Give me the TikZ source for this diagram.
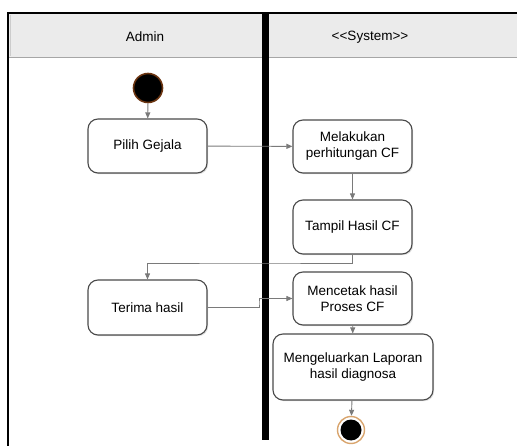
\documentclass[tikz,border=0pt]{standalone}
\usepackage{fontspec}
\setmainfont{Liberation Sans}
\usetikzlibrary{arrows.meta,shadows}
\definecolor{headgray}{HTML}{EBEBEB}
\definecolor{boxline}{HTML}{4A4A4A}
\definecolor{flowgray}{HTML}{7A7A7A}
\definecolor{ringtan}{HTML}{D9A56E}
\definecolor{glow}{HTML}{6B3410}
\begin{document}
\begin{tikzpicture}[x=1pt,y=-1pt,
  activity/.style={draw=boxline, line width=1.1pt, fill=white, rounded corners=10pt,
    align=center, inner sep=2pt, font=\fontsize{13.5}{16}\selectfont,
    drop shadow={opacity=0.25, shadow xshift=1.2pt, shadow yshift=-1.2pt}},
  flow/.style={draw=flowgray, line width=0.9pt, -{Triangle[length=6pt,width=5pt]}},
  lanehead/.style={font=\fontsize{13.5}{16}\selectfont}
]
\path[use as bounding box] (0,0) rectangle (517,446);

% swimlane frame and header band
\fill[headgray] (8,13) rectangle (517,57);
\draw[gray!70, line width=0.8pt] (8,57) -- (517,57);
\draw[gray!40, line width=0.6pt] (10,15) -- (10,56);
\draw[black, line width=1.2pt] (517,13) -- (8,13) -- (8,446);
\node[lanehead] (hadmin) at (145,37) {Admin};
\node[lanehead] (hsystem) at (370,37) {<\kern0pt<System>\kern0pt>};

% lane divider
\draw[black, line width=7pt] (265,13) -- (265,440);

% start node
\node[circle, fill=black, draw=glow, line width=1.6pt, minimum size=29pt, inner sep=0pt] (start) at (148,88) {};

% activities
\node[activity, minimum width=119pt, minimum height=54pt] (pilih) at (147.5,146) {Pilih Gejala};
\node[activity, minimum width=119pt, minimum height=53pt] (hitung) at (352.5,146.5) {Melakukan\\perhitungan CF};
\node[activity, minimum width=119pt, minimum height=54pt] (tampil) at (352.5,227) {Tampil Hasil CF};
\node[activity, minimum width=119pt, minimum height=55pt] (terima) at (147.5,307.5) {Terima hasil};
\node[activity, minimum width=119pt, minimum height=53pt] (cetak) at (352.5,298.5) {Mencetak hasil\\Proses CF};
\node[activity, minimum width=160pt, minimum height=66pt] (laporan) at (353,367) {Mengeluarkan Laporan\\hasil diagnosa};

% end node
\node[circle, draw=ringtan, line width=1.4pt, fill=white, minimum size=27pt, inner sep=0pt] (stop) at (351,430) {};
\node[circle, fill=black, minimum size=21pt, inner sep=0pt] (stopdot) at (stop.center) {};

% bend points
\coordinate (bendA) at (250,263);
\coordinate (bendB) at (259,303);

% control flow
\draw[flow] (start) -- (pilih);
\draw[flow] (pilih) -- (hitung);
\draw[flow] (hitung) -- (tampil);
\draw[flow] (tampil.south) |- (bendA) -| (terima.north);
\draw[flow] (terima.east) -| (bendB) |- (cetak.west);
\draw[flow] (cetak) -- (laporan);
\draw[flow] (laporan) -- (stop);
\end{tikzpicture}
\end{document}
